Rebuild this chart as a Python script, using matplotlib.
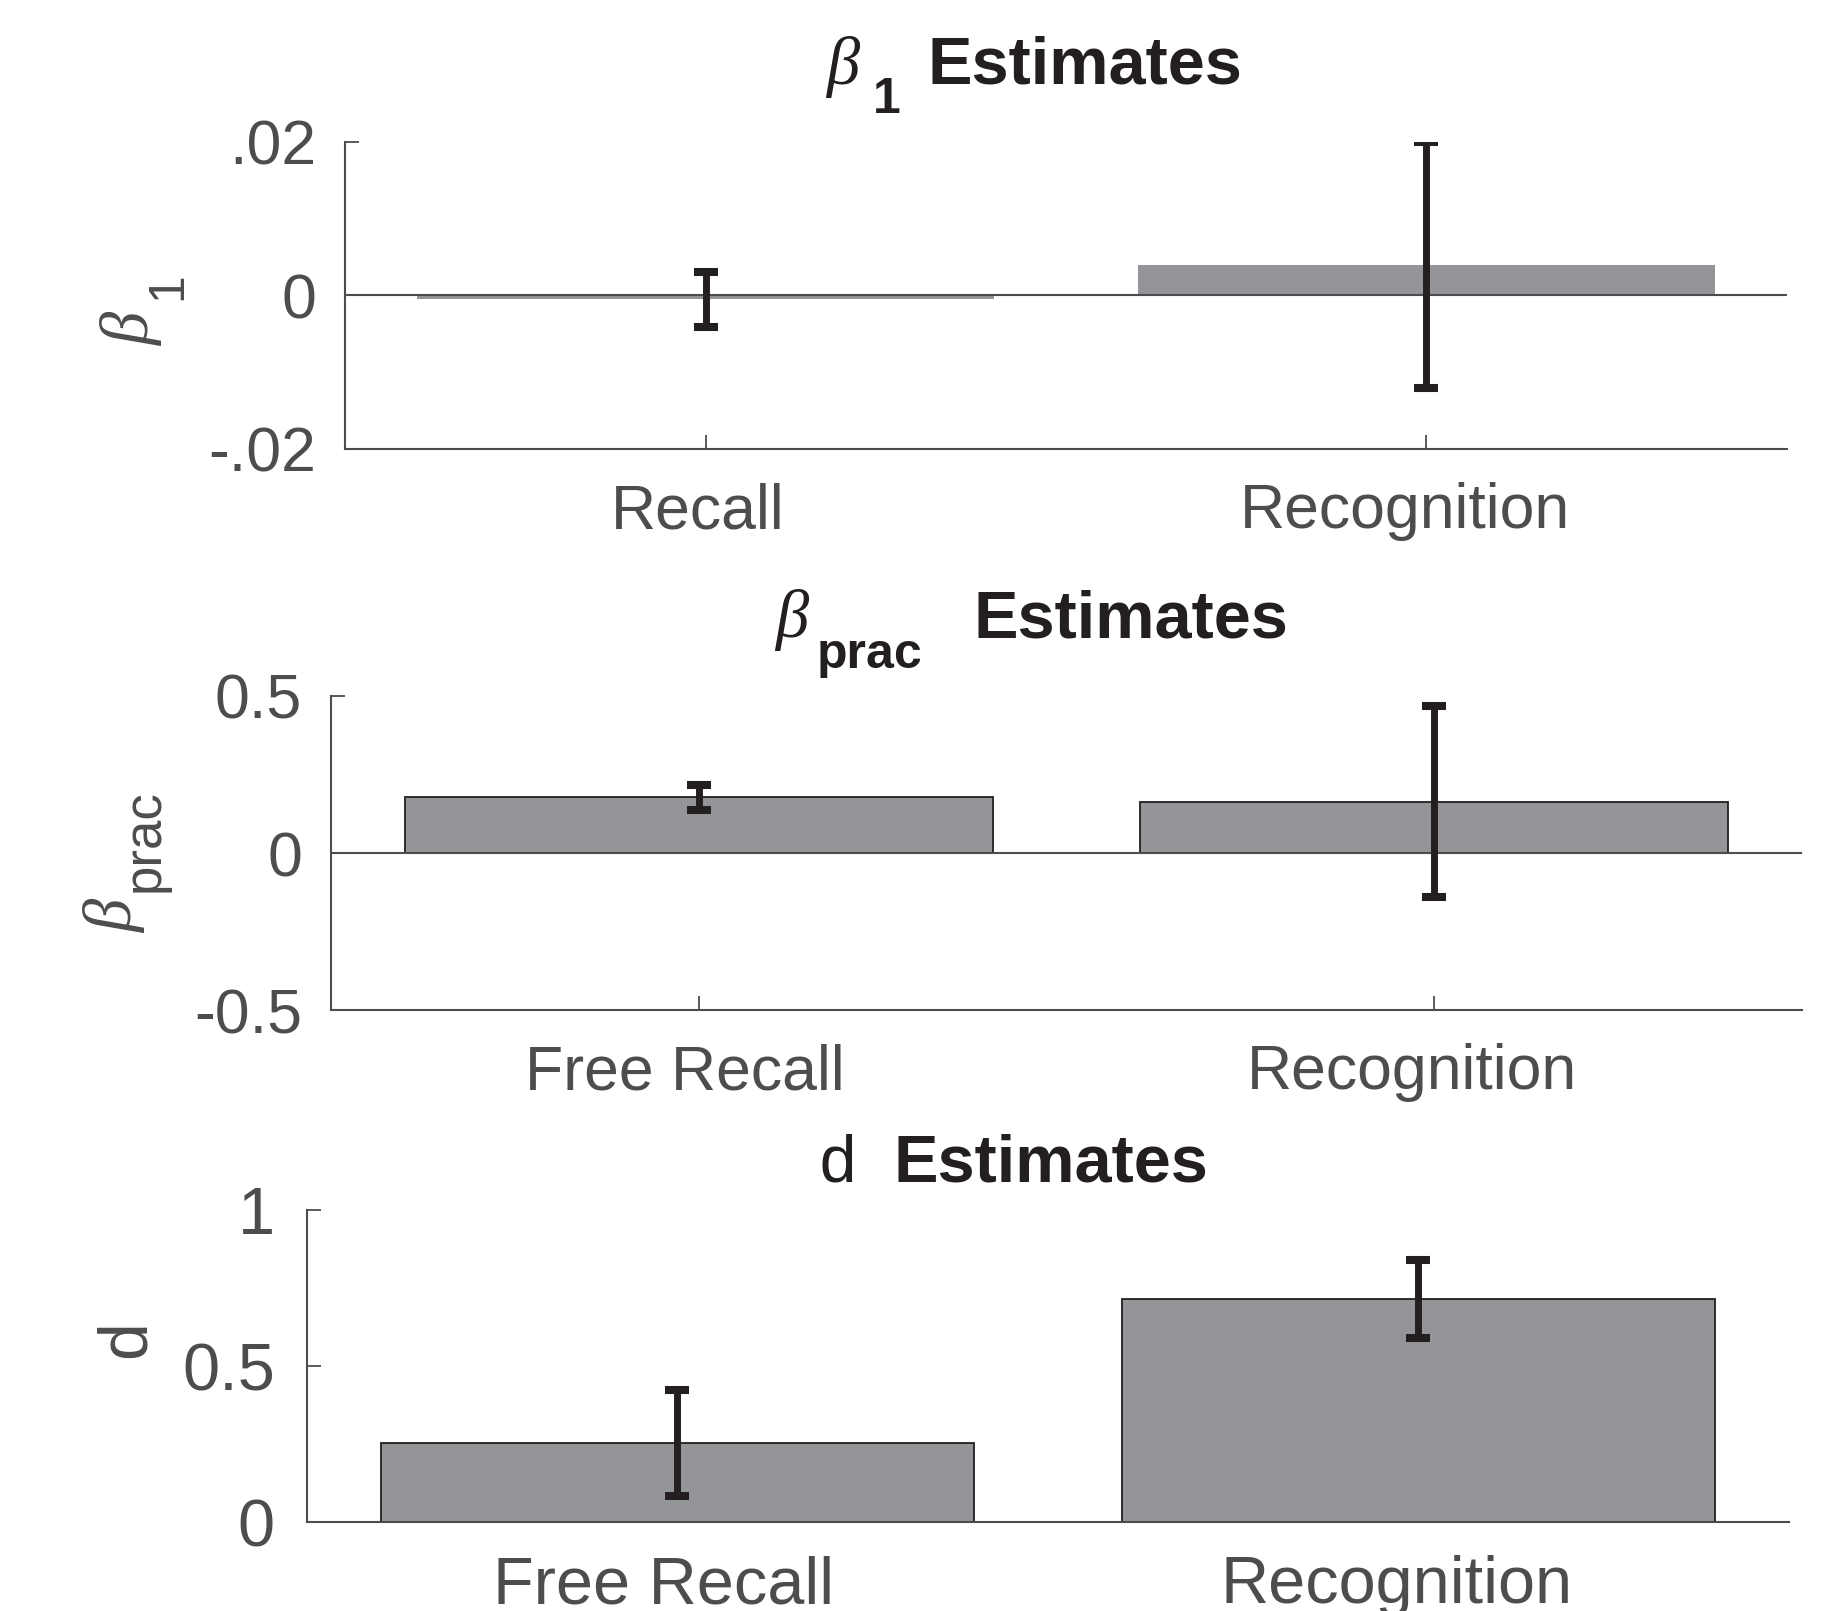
import matplotlib
matplotlib.use("Agg")
import matplotlib.pyplot as plt
import matplotlib.transforms as mtransforms

plt.rcParams.update({
    "font.family": ["Liberation Sans", "DejaVu Sans"],
})

# ---- data -------------------------------------------------------------
b1_labels = ["Recall", "Recognition"]
b1_values = [-0.0005, 0.0040]
b1_err = [0.0036, 0.0160]
b1_ticks = [-0.02, 0, 0.02]
b1_ticklabels = ["-.02", "0", ".02"]

bprac_labels = ["Free Recall", "Recognition"]
bprac_values = [0.178, 0.164]
bprac_err = [0.040, 0.304]
bprac_ticks = [-0.5, 0, 0.5]
bprac_ticklabels = ["-0.5", "0", "0.5"]

d_labels = ["Free Recall", "Recognition"]
d_values = [0.254, 0.716]
d_err = [0.170, 0.125]
d_ticks = [0, 0.5, 1]
d_ticklabels = ["0", "0.5", "1"]

# ---- style ------------------------------------------------------------
TEXT = "#4d4d4d"
TITLE = "#231f20"
BAR = "#949598"
ERR = "#231f20"
TFS = 48
SUB = 36
W, H = 1829, 1611

# horizontal nudge (px) of category labels
label_nudge = {"Recall": -8, "Free Recall": -14, "Recognition": -22}

fig = plt.figure(figsize=(W / 100, H / 100), dpi=100)


def fx(px):
    return px / W


def fy(py):
    return 1 - py / H


def greek(x, y, size, color, rot=0):
    kw = dict(fontsize=size, color=color, family=["Liberation Serif", "DejaVu Serif"],
              style="italic", ha="left", va="baseline")
    if rot:
        kw.update(rotation=90, rotation_mode="anchor")
    fig.text(fx(x), fy(y), "\u03b2", **kw)


def word(x, y, s, size, color, weight="normal", family=None, rot=0):
    kw = dict(fontsize=size, color=color, fontweight=weight, ha="left", va="baseline")
    if family:
        kw["family"] = family
    if rot:
        kw.update(rotation=90, rotation_mode="anchor")
    fig.text(fx(x), fy(y), s, **kw)


panels = [
    dict(rect=[0.1887, 0.7213, 0.7883, 0.1906], labels=b1_labels, values=b1_values,
         err=b1_err, ticks=b1_ticks, ticklabels=b1_ticklabels, ylim=(-0.02, 0.02),
         edge=False, zero=True, fs=45, ypad=21),
    dict(rect=[0.1810, 0.3730, 0.8040, 0.1950], labels=bprac_labels, values=bprac_values,
         err=bprac_err, ticks=bprac_ticks, ticklabels=bprac_ticklabels, ylim=(-0.5, 0.5),
         edge=True, zero=True, fs=45, ypad=21),
    dict(rect=[0.1677, 0.0552, 0.8103, 0.1937], labels=d_labels, values=d_values,
         err=d_err, ticks=d_ticks, ticklabels=d_ticklabels, ylim=(0, 1),
         edge=True, zero=False, fs=48, ypad=23),
]

for p in panels:
    ax = fig.add_axes(p["rect"])
    x = list(range(1, len(p["values"]) + 1))
    ax.bar(x, p["values"], width=0.8, color=BAR,
           edgecolor=ERR if p["edge"] else "none",
           linewidth=1.3 if p["edge"] else 0, zorder=1)
    if p["zero"]:
        ax.axhline(0, color=TEXT, lw=1.5, zorder=2)
    ax.errorbar(x, p["values"], yerr=p["err"], fmt="none", ecolor=ERR,
                elinewidth=5, capsize=8.6, capthick=5.8, zorder=3)

    ax.set_xlim(0.5, len(x) + 0.5)
    ax.set_ylim(*p["ylim"])
    ax.set_xticks(x)
    ax.set_xticklabels(p["labels"])
    ax.set_yticks(p["ticks"])
    ax.set_yticklabels(p["ticklabels"])
    ax.set_axisbelow(True)

    for side in ("top", "right"):
        ax.spines[side].set_visible(False)
    for side in ("left", "bottom"):
        ax.spines[side].set_color(TEXT)
        ax.spines[side].set_linewidth(1.5)

    ax.tick_params(axis="both", direction="in", length=10, width=1.3,
                   colors=TEXT, labelsize=p["fs"])
    ax.tick_params(axis="x", pad=24)
    ax.tick_params(axis="y", pad=p["ypad"])
    for lab in ax.get_xticklabels():
        dx = label_nudge.get(lab.get_text(), 0) / 100
        lab.set_transform(lab.get_transform()
                          + mtransforms.ScaledTranslation(dx, 0, fig.dpi_scale_trans))

# ---- titles -----------------------------------------------------------
greek(826, 84, TFS, TITLE)
word(873, 113, "1", SUB, TITLE, weight="bold")
word(927, 84, "Estimates", TFS, TITLE, weight="bold")

greek(775, 637, TFS, TITLE)
word(817, 668, "prac", SUB, TITLE, weight="bold")
word(973, 637, "Estimates", TFS, TITLE, weight="bold")

word(818, 1181, "d", TFS, TITLE, family=["Liberation Mono", "DejaVu Sans Mono"])
word(893, 1181, "Estimates", TFS, TITLE, weight="bold")

# ---- y-axis labels ----------------------------------------------------
greek(149, 346, TFS, TEXT, rot=90)
word(181, 300, "1", SUB, TEXT, rot=90)

greek(132, 933, TFS, TEXT, rot=90)
word(159, 892, "prac", 38, TEXT, rot=90)

word(145, 1358, "d", 49, TEXT, rot=90)

fig.savefig("out.png", dpi=100)
